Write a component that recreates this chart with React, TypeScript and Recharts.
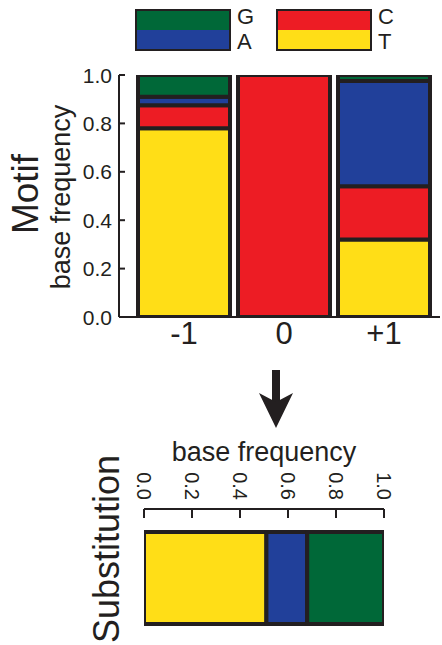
import { BarChart, Bar, XAxis, YAxis } from "recharts";

const INK = "#231f20";
const FONT = "'Liberation Sans', Arial, sans-serif";

const COLORS: Record<string, string> = {
  G: "#006838",
  A: "#21409a",
  C: "#ed1c24",
  T: "#ffde17",
};

// motif: base frequency at each position around the site
const positions = ["-1", "0", "+1"];
const motifBases = ["T", "C", "A", "G"]; // stacked bottom -> top
const motifT = [0.78, 0, 0.32];
const motifC = [0.095, 1.0, 0.22];
const motifA = [0.035, 0, 0.435];
const motifG = [0.09, 0, 0.025];
const freqTicks = [0, 0.2, 0.4, 0.6, 0.8, 1.0];

// substitution: base frequency
const subBases = ["T", "A", "G"];
const subValues = [0.51, 0.17, 0.32];

const legendPairs = [
  ["G", "A"],
  ["C", "T"],
];

const motifData = positions.map((pos, i) => ({
  pos,
  T: motifT[i],
  C: motifC[i],
  A: motifA[i],
  G: motifG[i],
}));

const subData = [
  subBases.reduce((row: Record<string, any>, b, i) => {
    row[b] = subValues[i];
    return row;
  }, { name: "substitution" }),
];

function LeftTick(props: any) {
  const { x, y, payload } = props;
  return (
    <g>
      <line x1={x + 7} x2={x + 13} y1={y} y2={y} stroke={INK} strokeWidth={2} />
      <text x={x} y={y} textAnchor="end" dominantBaseline="central" fontSize={21} fill={INK} fontFamily={FONT}>
        {Number(payload.value).toFixed(1)}
      </text>
    </g>
  );
}

function TopTick(props: any) {
  const { x, y, payload } = props;
  return (
    <g>
      <line x1={x} x2={x} y1={y + 9} y2={y + 18} stroke={INK} strokeWidth={2} />
      <text
        x={x}
        y={y}
        transform={`rotate(90 ${x} ${y})`}
        textAnchor="end"
        dominantBaseline="central"
        fontSize={20}
        fill={INK}
        fontFamily={FONT}
      >
        {Number(payload.value).toFixed(1)}
      </text>
    </g>
  );
}

function MotifAxisLabel() {
  return (
    <g fill={INK} fontFamily={FONT}>
      <text x={38} y={194} fontSize={37} textAnchor="middle" transform="rotate(-90 38 194)">
        Motif
      </text>
      <text x={70} y={197} fontSize={27} textAnchor="middle" transform="rotate(-90 70 197)">
        base frequency
      </text>
    </g>
  );
}

function SubAxisLabel() {
  // chart-local coordinates (this chart starts 430px down the page)
  return (
    <text x={264} y={31} fontSize={27} textAnchor="middle" fill={INK} fontFamily={FONT}>
      base frequency
    </text>
  );
}

function BaseLegend() {
  return (
    <>
      {legendPairs.map((pair, i) => (
        <div key={i} style={{ position: "absolute", top: 9, left: 135 + i * 141, display: "flex" }}>
          <div style={{ width: 96, height: 42, border: `2.5px solid ${INK}`, boxSizing: "border-box" }}>
            {pair.map((b) => (
              <div key={b} style={{ height: "50%", background: COLORS[b] }} />
            ))}
          </div>
          <div style={{ marginLeft: 6, marginTop: -5, fontSize: 22, lineHeight: "25px", color: INK, fontFamily: FONT }}>
            {pair.map((b) => (
              <div key={b}>{b}</div>
            ))}
          </div>
        </div>
      ))}
    </>
  );
}

export default function App() {
  return (
    <div style={{ position: "absolute", top: 0, left: 0, width: 442, height: 645, background: "#fff" }}>
      <BaseLegend />

      <div style={{ position: "absolute", top: 0, left: 0 }}>
        <BarChart width={442} height={360} data={motifData} margin={{ top: 75, right: 2, left: 0, bottom: 0 }} barSize={92}>
          <XAxis
            dataKey="pos"
            interval={0}
            tickLine={false}
            tickSize={0}
            tickMargin={5}
            height={43}
            padding={{ left: 15, right: 6 }}
            axisLine={{ stroke: INK, strokeWidth: 2 }}
            tick={{ fontSize: 31, fill: INK, fontFamily: FONT }}
          />
          <YAxis
            type="number"
            width={119}
            domain={[0, 1]}
            allowDataOverflow
            ticks={freqTicks}
            tickLine={false}
            tickSize={0}
            tickMargin={7}
            axisLine={{ stroke: INK, strokeWidth: 2 }}
            tick={<LeftTick />}
            label={<MotifAxisLabel />}
          />
          {motifBases.map((b) => (
            <Bar key={b} dataKey={b} stackId="motif" fill={COLORS[b]} stroke={INK} strokeWidth={4} isAnimationActive={false} />
          ))}
        </BarChart>
      </div>

      <svg width={442} height={645} style={{ position: "absolute", top: 0, left: 0, pointerEvents: "none" }}>
        <rect x={272} y={370} width={8} height={32} fill={INK} />
        <path d="M259 393 L276 402 L293 393 L276 428 Z" fill={INK} />
        <text x={119} y={549} fontSize={36} textAnchor="middle" fill={INK} fontFamily={FONT} transform="rotate(-90 119 549)">
          Substitution
        </text>
      </svg>

      <div style={{ position: "absolute", top: 430, left: 0 }}>
        <BarChart
          layout="vertical"
          width={442}
          height={215}
          data={subData}
          margin={{ top: 39, right: 58, left: 144, bottom: 18 }}
          barSize={92}
        >
          <XAxis
            type="number"
            orientation="top"
            domain={[0, 1]}
            allowDataOverflow
            ticks={freqTicks}
            height={40}
            tickLine={false}
            tickSize={0}
            tickMargin={9}
            axisLine={{ stroke: INK, strokeWidth: 2 }}
            tick={<TopTick />}
            label={<SubAxisLabel />}
          />
          <YAxis type="category" dataKey="name" hide padding={{ top: 20, bottom: 0 }} />
          {subBases.map((b) => (
            <Bar key={b} dataKey={b} stackId="sub" fill={COLORS[b]} stroke={INK} strokeWidth={4} isAnimationActive={false} />
          ))}
        </BarChart>
      </div>
    </div>
  );
}
